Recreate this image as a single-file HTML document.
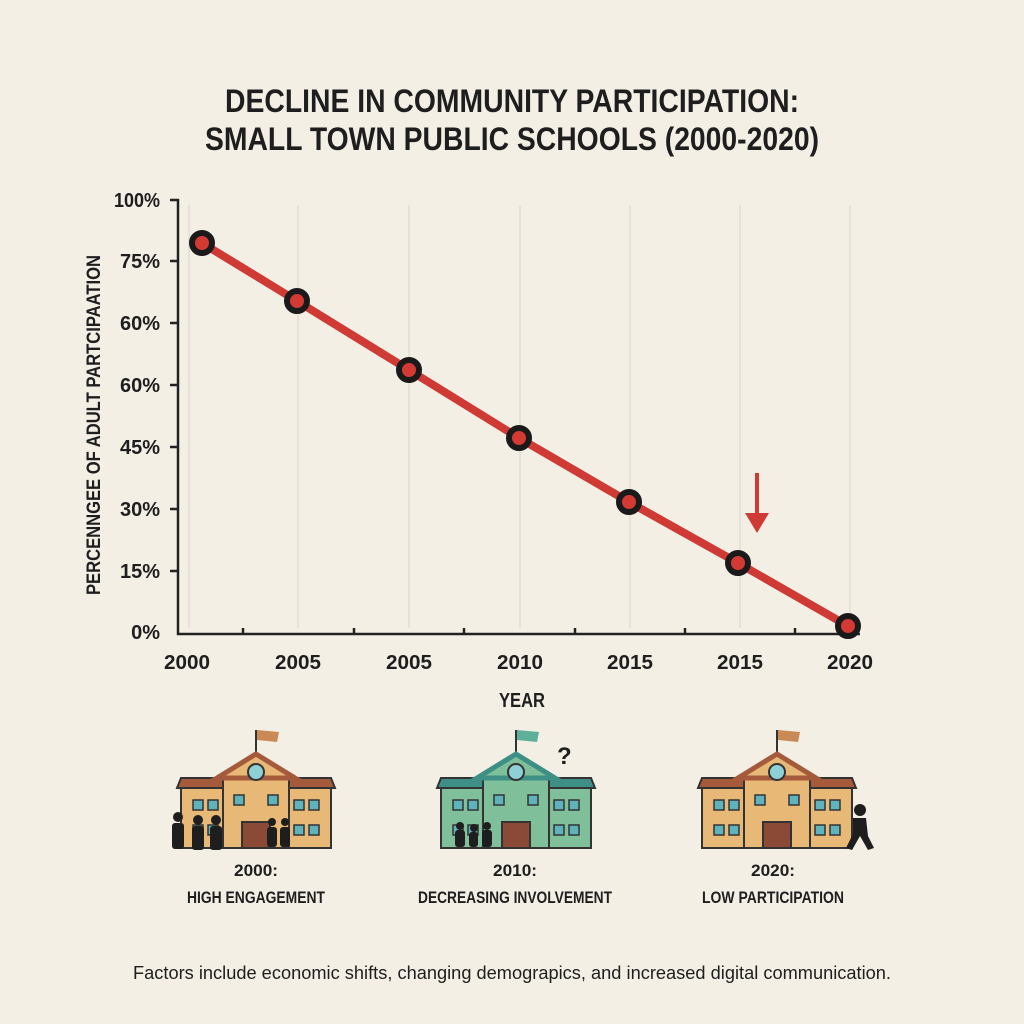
<!DOCTYPE html>
<html><head><style>
body{margin:0;background:#f3efe5;}
svg{display:block}
text{font-family:"Liberation Sans",sans-serif;fill:#1e1e1e}
</style></head><body>
<svg width="1024" height="1024" viewBox="0 0 1024 1024">
<rect width="1024" height="1024" fill="#f3efe5"/>
<g font-weight="bold" text-anchor="middle" font-size="32">
<text x="512" y="112" textLength="574" lengthAdjust="spacingAndGlyphs">DECLINE IN COMMUNITY PARTICIPATION:</text>
<text x="512" y="150" textLength="614" lengthAdjust="spacingAndGlyphs">SMALL TOWN PUBLIC SCHOOLS (2000-2020)</text>
</g>
<g stroke="#e2ddd0" stroke-width="1.5">
<line x1="189" y1="205" x2="189" y2="628"/><line x1="298" y1="205" x2="298" y2="628"/>
<line x1="409" y1="205" x2="409" y2="628"/><line x1="520" y1="205" x2="520" y2="628"/>
<line x1="630" y1="205" x2="630" y2="628"/><line x1="740" y1="205" x2="740" y2="628"/>
<line x1="850" y1="205" x2="850" y2="628"/>
</g>
<g stroke="#222" stroke-width="2.5" fill="none">
<polyline points="170,200 178,200 178,634 860,634"/>
<line x1="170" y1="261" x2="178" y2="261"/><line x1="170" y1="323" x2="178" y2="323"/>
<line x1="170" y1="385" x2="178" y2="385"/><line x1="170" y1="447" x2="178" y2="447"/>
<line x1="170" y1="509" x2="178" y2="509"/><line x1="170" y1="571" x2="178" y2="571"/>
<line x1="243" y1="628" x2="243" y2="634"/><line x1="354" y1="628" x2="354" y2="634"/>
<line x1="464" y1="628" x2="464" y2="634"/><line x1="575" y1="628" x2="575" y2="634"/>
<line x1="685" y1="628" x2="685" y2="634"/><line x1="795" y1="628" x2="795" y2="634"/>
</g>
<g font-size="20" font-weight="bold" text-anchor="end">
<text x="160" y="207" textLength="46" lengthAdjust="spacingAndGlyphs">100%</text><text x="160" y="268">75%</text><text x="160" y="330">60%</text>
<text x="160" y="392">60%</text><text x="160" y="454">45%</text><text x="160" y="516">30%</text>
<text x="160" y="578">15%</text><text x="160" y="639">0%</text>
</g>
<g font-size="20" font-weight="bold" text-anchor="middle">
<text x="187" y="669" textLength="46" lengthAdjust="spacingAndGlyphs">2000</text><text x="298" y="669" textLength="46" lengthAdjust="spacingAndGlyphs">2005</text><text x="409" y="669" textLength="46" lengthAdjust="spacingAndGlyphs">2005</text>
<text x="520" y="669" textLength="46" lengthAdjust="spacingAndGlyphs">2010</text><text x="630" y="669" textLength="46" lengthAdjust="spacingAndGlyphs">2015</text><text x="740" y="669" textLength="46" lengthAdjust="spacingAndGlyphs">2015</text>
<text x="850" y="669" textLength="46" lengthAdjust="spacingAndGlyphs">2020</text>
<text x="522" y="707" font-size="20" textLength="46" lengthAdjust="spacingAndGlyphs">YEAR</text>
<text transform="translate(100,425) rotate(-90)" font-size="19" textLength="340" lengthAdjust="spacingAndGlyphs">PERCENNGEE OF ADULT PARTCIPAATION</text>
</g>
<polyline points="202,243 297,301 409,370 519,438 629,502 738,563 848,626" fill="none" stroke="#cf3a35" stroke-width="8" stroke-linecap="round"/>
<g fill="#d33a33" stroke="#1a1a1a" stroke-width="6">
<circle cx="202" cy="243" r="10"/><circle cx="297" cy="301" r="10"/><circle cx="409" cy="370" r="10"/>
<circle cx="519" cy="438" r="10"/><circle cx="629" cy="502" r="10"/><circle cx="738" cy="563" r="10"/>
<circle cx="848" cy="626" r="10"/>
</g>
<line x1="757" y1="473" x2="757" y2="518" stroke="#cf3a35" stroke-width="4"/>
<polygon points="745,513 769,513 757,533" fill="#cf3a35"/>
<defs>
<g id="sch">
<line x1="75" y1="0" x2="75" y2="30" stroke="#333" stroke-width="2"/>
<rect x="0" y="58" width="46" height="60" fill="var(--b)" stroke="#333" stroke-width="2"/>
<rect x="104" y="58" width="46" height="60" fill="var(--b)" stroke="#333" stroke-width="2"/>
<polygon points="-4,58 46,58 46,48 0,48" fill="var(--r)" stroke="#333" stroke-width="2"/>
<polygon points="104,48 150,48 154,58 104,58" fill="var(--r)" stroke="#333" stroke-width="2"/>
<rect x="42" y="45" width="66" height="73" fill="var(--b)" stroke="#333" stroke-width="2"/>
<polygon points="36,48 75,24 114,48" fill="var(--b)" stroke="var(--r)" stroke-width="5"/>
<circle cx="75" cy="42" r="8" fill="#8fd0d6" stroke="#333" stroke-width="2"/>
<rect x="61" y="92" width="28" height="26" fill="#8a4a35" stroke="#333" stroke-width="2"/>
<g fill="#5fb3bd" stroke="#333" stroke-width="1.5">
<rect x="12" y="70" width="10" height="10"/><rect x="27" y="70" width="10" height="10"/>
<rect x="12" y="95" width="10" height="10"/><rect x="27" y="95" width="10" height="10"/>
<rect x="113" y="70" width="10" height="10"/><rect x="128" y="70" width="10" height="10"/>
<rect x="113" y="95" width="10" height="10"/><rect x="128" y="95" width="10" height="10"/>
<rect x="53" y="65" width="10" height="10"/><rect x="87" y="65" width="10" height="10"/>
</g>
</g>
</defs>
<g transform="translate(181,730)" style="--b:#e8b877;--r:#a55a3c"><use href="#sch"/><polygon points="76,0 98,2 96,12 76,10" fill="#c98a55"/></g>
<g transform="translate(441,730)" style="--b:#7fbf9a;--r:#3e8f86"><use href="#sch"/><polygon points="76,0 98,2 96,12 76,10" fill="#5fb09a"/></g>
<g transform="translate(702,730)" style="--b:#e8b877;--r:#a55a3c"><use href="#sch"/><polygon points="76,0 98,2 96,12 76,10" fill="#c98a55"/></g>
<text x="557" y="764" font-size="24" font-weight="bold">?</text>
<g fill="#1e1e1e">
<circle cx="178" cy="817" r="5"/><rect x="172" y="823" width="12" height="26" rx="3"/>
<circle cx="198" cy="820" r="5"/><rect x="192" y="826" width="12" height="24" rx="3"/>
<circle cx="216" cy="820" r="5"/><rect x="210" y="826" width="12" height="24" rx="3"/>
<circle cx="272" cy="822" r="4"/><rect x="267" y="827" width="10" height="20" rx="3"/>
<circle cx="285" cy="822" r="4"/><rect x="280" y="827" width="10" height="20" rx="3"/>
<circle cx="460" cy="826" r="4"/><rect x="455" y="830" width="10" height="17" rx="3"/>
<circle cx="474" cy="828" r="4"/><rect x="469" y="832" width="9" height="15" rx="3"/>
<circle cx="487" cy="826" r="4"/><rect x="482" y="830" width="10" height="17" rx="3"/>
<circle cx="860" cy="810" r="6"/><polygon points="853,818 866,818 868,836 874,848 868,850 860,836 852,850 846,848 853,834"/>
</g>
<g font-size="17" font-weight="bold" text-anchor="middle">
<text x="256" y="876" textLength="44" lengthAdjust="spacingAndGlyphs">2000:</text><text x="256" y="903" textLength="138" lengthAdjust="spacingAndGlyphs">HIGH ENGAGEMENT</text>
<text x="515" y="876" textLength="44" lengthAdjust="spacingAndGlyphs">2010:</text><text x="515" y="903" textLength="194" lengthAdjust="spacingAndGlyphs">DECREASING INVOLVEMENT</text>
<text x="773" y="876" textLength="44" lengthAdjust="spacingAndGlyphs">2020:</text><text x="773" y="903" textLength="142" lengthAdjust="spacingAndGlyphs">LOW PARTICIPATION</text>
</g>
<text x="512" y="979" font-size="18" text-anchor="middle" textLength="758" lengthAdjust="spacingAndGlyphs">Factors include economic shifts, changing demograpics, and increased digital communication.</text>
</svg>
</body></html>
